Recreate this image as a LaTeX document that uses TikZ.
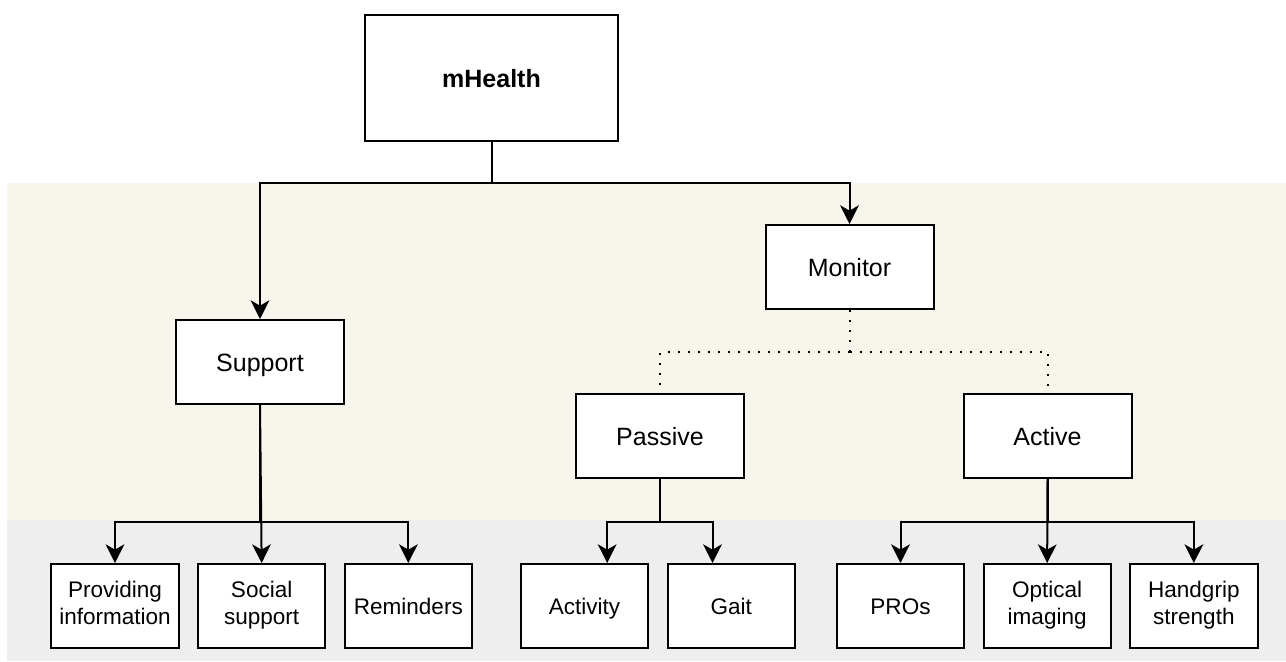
\documentclass[tikz,border=0pt]{standalone}
\usepackage{fontspec}
\setmainfont{Liberation Sans}
\usetikzlibrary{positioning, arrows.meta}

\definecolor{bandtop}{HTML}{F8F5ED}
\definecolor{bandlow}{HTML}{EEEEEE}
\newcommand\capstrut{\rule[-0.2\baselineskip]{0pt}{\baselineskip}}

\tikzset{
  box/.style={draw, line width=1.5pt, fill=white, align=center, inner sep=0pt,
    execute at begin node=\capstrut, execute at end node=\capstrut},
  midbox/.style={box, minimum width=126pt, minimum height=63pt, font=\fontsize{18.75}{22.5}\selectfont},
  leafbox/.style={box, minimum width=95.5pt, minimum height=63pt, font=\fontsize{16.9}{20.25}\selectfont},
  arr/.style={line width=1.5pt, -{Stealth[length=14pt, width=14pt, inset=4pt]}},
  link/.style={line width=1.5pt},
  dots/.style={line width=1.5pt, dash pattern=on 1.5pt off 6pt}
}

\begin{document}
\begin{tikzpicture}[x=0.75pt, y=-0.75pt, node distance=110pt]
\useasboundingbox (0,0) rectangle (1286,661);
% background bands
\fill[bandtop] (7,183) rectangle (1286,520);
\fill[bandlow] (7,520) rectangle (1286,661);

\node (mhealth) [box, minimum width=190pt, minimum height=94.5pt, font=\fontsize{18.75}{22.5}\selectfont\bfseries] at (491.5,78) {mHealth};
\node (support) [midbox] at (260,362) {Support};
\node (monitor) [midbox] at (849.5,267) {Monitor};
\node (passive) [midbox] at (660,436) {Passive};
\node (active) [midbox] at (1047.5,436) {Active};

% leaves
\node (provide) [leafbox] at (115,606) {Providing\\information};
\node (social) [leafbox, right of=provide] {Social\\support};
\node (remind) [leafbox, right of=social] {Reminders};
\node (activity) [leafbox] at (584.5,606) {Activity};
\node (gait) [leafbox, right of=activity] {Gait};
\node (pros) [leafbox] at (900.5,606) {PROs};
\node (optical) [leafbox, right of=pros] {Optical\\imaging};
\node (handgrip) [leafbox, right of=optical] {Handgrip\\strength};

\coordinate (topsplit) at (0,183);
\coordinate (dotsplit) at (0,352);
\coordinate (lowsplit) at (0,522);

\draw[link] (mhealth.south) -- (mhealth.south |- topsplit);
\draw[arr] (mhealth.south |- topsplit) -| (support.north);
\draw[arr] (mhealth.south |- topsplit) -| (monitor.north);

\draw[dots] (monitor.south) -- (monitor.south |- dotsplit);
\draw[dots] (monitor.south |- dotsplit) -| (passive.north);
\draw[dots] (monitor.south |- dotsplit) -| (active.north);

\draw[link] (support.south) -- (support.south |- lowsplit);
\draw[arr] (support.south |- lowsplit) -| (provide.north);
\draw[arr] (support.south) -- (social.north);
\draw[arr] (support.south |- lowsplit) -| (remind.north);

\draw[link] (passive.south) -- (passive.south |- lowsplit);
\draw[arr] (passive.south |- lowsplit) -| ([xshift=17pt]activity.north);
\draw[arr] (passive.south |- lowsplit) -| ([xshift=-14pt]gait.north);

\draw[link] (active.south) -- (active.south |- lowsplit);
\draw[arr] (active.south |- lowsplit) -| (pros.north);
\draw[arr] (active.south) -- (optical.north);
\draw[arr] (active.south |- lowsplit) -| (handgrip.north);
\end{tikzpicture}
\end{document}
